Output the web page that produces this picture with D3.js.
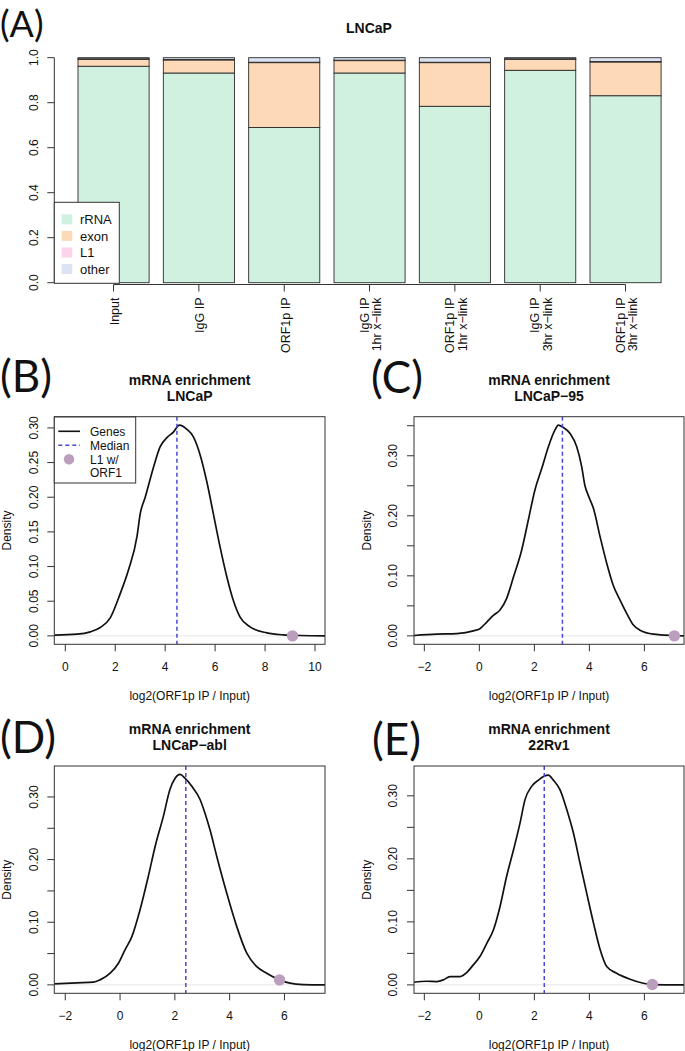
<!DOCTYPE html>
<html><head><meta charset="utf-8">
<script src="https://cdn.jsdelivr.net/npm/d3@7/dist/d3.min.js"></script>
<style>
body{margin:0;background:#fff}
svg{display:block}
text{font-family:"Liberation Sans",Arial,Helvetica,sans-serif;fill:#111}
.plab{font-family:Lato,"Open Sans",sans-serif;fill:#111}
</style>
</head><body>
<svg id="chart" width="685" height="1051"></svg>
<script>
// ================= DATA =================
// Panel A: stacked proportions
const barCategories = [["Input"],["IgG IP"],["ORF1p IP"],["IgG IP","1hr x−link"],["ORF1p IP","1hr x−link"],["IgG IP","3hr x−link"],["ORF1p IP","3hr x−link"]];
const seriesNames = ["rRNA","exon","L1","other"];
const rRNA  = [0.962, 0.932, 0.690, 0.932, 0.784, 0.944, 0.831];
const exon  = [0.031, 0.058, 0.288, 0.055, 0.194, 0.049, 0.150];
const L1    = [0.002, 0.002, 0.002, 0.002, 0.002, 0.002, 0.002];
const other = [0.005, 0.008, 0.020, 0.011, 0.020, 0.005, 0.017];
const barYTicks = [0, 0.2, 0.4, 0.6, 0.8, 1.0];
const barYTickLabels = ["0.0","0.2","0.4","0.6","0.8","1.0"];

// Density panels
const densB_x = [-0.43,0.47,1.0,1.4,1.8,2.2,2.53,2.87,3.0,3.2,3.53,3.8,4.07,4.33,4.57,4.87,5.13,5.4,5.67,5.93,6.2,6.47,6.73,7.0,7.4,8.07,8.73,9.4,10.4];
const densB_y = [0.001,0.0024,0.0058,0.012,0.026,0.061,0.095,0.143,0.176,0.200,0.243,0.273,0.286,0.294,0.304,0.298,0.287,0.261,0.222,0.176,0.128,0.085,0.051,0.027,0.013,0.0043,0.0014,0.0005,0.0];
const densC_x = [-2.376,-1.55,-0.82,-0.22,0.02,0.27,0.51,0.75,0.99,1.24,1.54,1.78,2.02,2.27,2.51,2.75,2.87,3.05,3.30,3.54,3.72,3.84,3.96,4.15,4.39,4.63,4.87,5.12,5.36,5.6,5.84,6.33,7.05,7.44];
const densC_y = [0.0006,0.0028,0.0039,0.0083,0.012,0.023,0.034,0.043,0.062,0.098,0.143,0.193,0.243,0.279,0.315,0.343,0.351,0.347,0.337,0.315,0.282,0.250,0.234,0.212,0.165,0.121,0.084,0.059,0.037,0.018,0.0094,0.0028,0.0006,0.0];
const densD_x = [-2.40,-1.58,-0.97,-0.73,-0.36,-0.06,0.18,0.43,0.73,1.03,1.28,1.58,1.82,2.01,2.19,2.37,2.62,2.92,3.10,3.28,3.53,3.89,4.26,4.62,4.99,5.35,5.82,6.2,6.69,7.48];
const densD_y = [0.0016,0.0032,0.0043,0.008,0.0187,0.0346,0.056,0.077,0.120,0.173,0.221,0.269,0.312,0.330,0.336,0.330,0.317,0.296,0.274,0.248,0.205,0.147,0.093,0.051,0.029,0.0187,0.008,0.0027,0.0005,0.0];
const densE_x = [-2.376,-1.92,-1.55,-1.31,-1.07,-0.70,-0.46,-0.22,0.02,0.27,0.51,0.75,0.99,1.24,1.48,1.66,1.90,2.15,2.35,2.51,2.69,2.93,3.18,3.42,3.66,3.90,4.15,4.39,4.63,4.99,5.48,5.96,6.29,7.44];
const densE_y = [0.0042,0.0058,0.0053,0.0079,0.0132,0.0132,0.0196,0.0317,0.045,0.066,0.087,0.124,0.172,0.214,0.257,0.294,0.315,0.325,0.331,0.333,0.325,0.310,0.278,0.241,0.193,0.146,0.098,0.056,0.029,0.0185,0.009,0.0026,0.0005,0.0];

const densTitles = [["mRNA enrichment","LNCaP"],["mRNA enrichment","LNCaP−95"],["mRNA enrichment","LNCaP−abl"],["mRNA enrichment","22Rv1"]];
const densLetters = ["(B)","(C)","(D)","(E)"];
const densMedians = [4.47, 3.02, 2.40, 2.36];
const densDotX = [9.1, 7.09, 5.82, 6.29];
const densDotY = [0.0, 0.0, 0.008, 0.0005];
const densYMax = [0.304, 0.351, 0.336, 0.334];
const densXLim = [[-0.44,10.4],[-2.376,7.44],[-2.40,7.48],[-2.376,7.44]];
const densXTicksB = [0,2,4,6,8,10];
const densXTicksCDE = [-2,0,2,4,6];
const densYTicks = [0,0.05,0.10,0.15,0.20,0.25,0.30,0.35];
const densYTickLabelsB = ["0.00","0.05","0.10","0.15","0.20","0.25","0.30",""];
const densYTickLabelsCDE = ["0.00","","0.10","","0.20","","0.30",""];
const legendBLabels = ["Genes","Median","L1 w/","ORF1"];
const xAxisTitle = "log2(ORF1p IP / Input)";
const yAxisTitle = "Density";

// ================= STYLE =================
const fills = {rRNA:"#d1f1e0", exon:"#fdd9b7", L1:"#fbd3ea", other:"#dde3f2"};
const medianColor = "#4848d4";
const dotColor = "#bb9ebd";
const fmtMinus = v => String(v).replace("-", "−");

const svg = d3.select("#chart");

// ================= PANEL A =================
(function(){
  const g = svg.append("g");
  const x = d3.scaleBand().domain(d3.range(barCategories.length)).range([70.9, 668.2]).paddingInner(0.1667).paddingOuter(0.0833);
  const y = d3.scaleLinear().domain([0,1]).range([282.7, 57.7]);
  const rows = barCategories.map((c,i)=>({i, rRNA:rRNA[i], exon:exon[i], L1:L1[i], other:other[i]}));
  const stack = d3.stack().keys(seriesNames)(rows);
  stack.forEach(layer=>{
    g.append("g").selectAll("rect").data(layer).join("rect")
      .attr("x", d=>x(d.data.i)).attr("width", x.bandwidth())
      .attr("y", d=>y(d[1])).attr("height", d=>y(d[0])-y(d[1]))
      .attr("fill", fills[layer.key]).attr("stroke","#2a2a2a").attr("stroke-width",0.9);
  });
  // y axis
  const ax = 54.3;
  g.append("line").attr("x1",ax).attr("x2",ax).attr("y1",y(0)).attr("y2",y(1)).attr("stroke","#333");
  barYTicks.forEach((t,k)=>{
    g.append("line").attr("x1",ax-7).attr("x2",ax).attr("y1",y(t)).attr("y2",y(t)).attr("stroke","#333");
    g.append("text").attr("transform",`translate(${ax-16.8},${y(t)}) rotate(-90)`).attr("text-anchor","middle")
      .style("font-size","12px").text(barYTickLabels[k]);
  });
  // x axis
  const xa = 284.5;
  const c0 = x(0)+x.bandwidth()/2, c1 = x(barCategories.length-1)+x.bandwidth()/2;
  g.append("line").attr("x1",c0).attr("x2",c1).attr("y1",xa).attr("y2",xa).attr("stroke","#333");
  barCategories.forEach((lines,i)=>{
    const cx = x(i)+x.bandwidth()/2;
    g.append("line").attr("x1",cx).attr("x2",cx).attr("y1",xa).attr("y2",xa+7).attr("stroke","#333");
    lines.forEach((ln,j)=>{
      const off = 5.5 + (j-(lines.length-1)/2)*12.7;
      g.append("text").attr("transform",`translate(${cx+off},297.5) rotate(-90)`).attr("text-anchor","end")
        .style("font-size","12.5px").text(ln);
    });
  });
  // title
  g.append("text").attr("x",369).attr("y",33).attr("text-anchor","middle").style("font-size","14px").style("font-weight","bold").text("LNCaP");
  // legend
  g.append("rect").attr("x",54.3).attr("y",202.3).attr("width",65).attr("height",81).attr("fill","#fff").attr("stroke","#333");
  seriesNames.forEach((s,k)=>{
    const cy = 219.3 + k*16.6;
    g.append("rect").attr("x",61.7).attr("y",cy-5).attr("width",10.6).attr("height",10).attr("fill",fills[s]);
    g.append("text").attr("x",80).attr("y",cy+4.7).style("font-size","13px").text(s);
  });
  svg.append("text").attr("class","plab").attr("x",0).attr("y",36.5).style("font-size","36px").text("(A)");
})();

// ================= DENSITY PANELS =================
const boxes = [
  {x0:54.3, x1:325, y0:416.7, y1:644.3},
  {x0:414, x1:684, y0:416.7, y1:644.3},
  {x0:54.3, x1:325, y0:766, y1:993.3},
  {x0:414, x1:684, y0:766, y1:993.3}
];
const letterPos = [[0,391.5],[371,393],[0,753],[372,755]];
const densX = [densB_x, densC_x, densD_x, densE_x];
const densY = [densB_y, densC_y, densD_y, densE_y];

boxes.forEach((b,p)=>{
  const g = svg.append("g");
  const ym = densYMax[p];
  const x = d3.scaleLinear().domain(densXLim[p]).range([b.x0, b.x1]);
  const y = d3.scaleLinear().domain([-0.04*ym, 1.04*ym]).range([b.y1, b.y0]);
  const clipId = "clip"+p;
  g.append("clipPath").attr("id",clipId).append("rect").attr("x",b.x0).attr("y",b.y0).attr("width",b.x1-b.x0).attr("height",b.y1-b.y0);
  const inner = g.append("g").attr("clip-path",`url(#${clipId})`);
  // zero line
  inner.append("line").attr("x1",b.x0).attr("x2",b.x1).attr("y1",y(0)).attr("y2",y(0)).attr("stroke","#e6e6e6").attr("stroke-width",1);
  // curve
  const pts = densX[p].map((v,i)=>[v, densY[p][i]]);
  inner.append("path").datum(pts).attr("fill","none").attr("stroke","#111").attr("stroke-width",1.7)
    .attr("d", d3.line().x(d=>x(d[0])).y(d=>y(d[1])).curve(d3.curveMonotoneX));
  // median
  inner.append("line").attr("x1",x(densMedians[p])).attr("x2",x(densMedians[p])).attr("y1",b.y0).attr("y2",b.y1)
    .attr("stroke",medianColor).attr("stroke-width",1.5).attr("stroke-dasharray","4,3");
  // dot
  inner.append("circle").attr("cx",x(densDotX[p])).attr("cy",y(densDotY[p])).attr("r",5.7).attr("fill",dotColor);
  // box
  g.append("rect").attr("x",b.x0).attr("y",b.y0).attr("width",b.x1-b.x0).attr("height",b.y1-b.y0).attr("fill","none").attr("stroke","#333");
  // x ticks
  const xt = p===0 ? densXTicksB : densXTicksCDE;
  xt.forEach(t=>{
    g.append("line").attr("x1",x(t)).attr("x2",x(t)).attr("y1",b.y1).attr("y2",b.y1+7).attr("stroke","#333");
    g.append("text").attr("x",x(t)).attr("y",b.y1+27).attr("text-anchor","middle").style("font-size","12px").text(fmtMinus(t));
  });
  // y ticks
  const labs = p===0 ? densYTickLabelsB : densYTickLabelsCDE;
  densYTicks.forEach((t,k)=>{
    if (t > 1.04*ym) return;
    g.append("line").attr("x1",b.x0-7).attr("x2",b.x0).attr("y1",y(t)).attr("y2",y(t)).attr("stroke","#333");
    if (labs[k]) g.append("text").attr("transform",`translate(${b.x0-16.8},${y(t)}) rotate(-90)`).attr("text-anchor","middle")
      .style("font-size","12px").text(labs[k]);
  });
  // axis titles
  g.append("text").attr("x",(b.x0+b.x1)/2).attr("y",b.y1+56).attr("text-anchor","middle").style("font-size","12px").text(xAxisTitle);
  g.append("text").attr("transform",`translate(${b.x0-43.5},${(b.y0+b.y1)/2}) rotate(-90)`).attr("text-anchor","middle").style("font-size","12px").text(yAxisTitle);
  // title
  densTitles[p].forEach((t,k)=>{
    g.append("text").attr("x",(b.x0+b.x1)/2).attr("y",b.y0-32+k*16).attr("text-anchor","middle")
      .style("font-size","14px").style("font-weight","bold").text(t);
  });
  // panel letter
  svg.append("text").attr("class","plab").attr("x",letterPos[p][0]).attr("y",letterPos[p][1]).style("font-size","44px").text(densLetters[p]);
  // legend in B
  if (p===0) {
    const lg = g.append("g");
    lg.append("rect").attr("x",54.3).attr("y",417).attr("width",81.4).attr("height",66).attr("fill","#fff").attr("stroke","#333");
    const ys = [431.3,445.3,459.3,473];
    lg.append("line").attr("x1",58.3).attr("x2",80).attr("y1",ys[0]).attr("y2",ys[0]).attr("stroke","#111").attr("stroke-width",1.6);
    lg.append("line").attr("x1",58.3).attr("x2",80).attr("y1",ys[1]).attr("y2",ys[1]).attr("stroke",medianColor).attr("stroke-width",1.5).attr("stroke-dasharray","4,3");
    lg.append("circle").attr("cx",69).attr("cy",ys[2]).attr("r",5.2).attr("fill",dotColor);
    legendBLabels.forEach((t,k)=>{
      lg.append("text").attr("x",90).attr("y",ys[k]+4.3).style("font-size","12px").text(t);
    });
  }
});
</script>
</body></html>
